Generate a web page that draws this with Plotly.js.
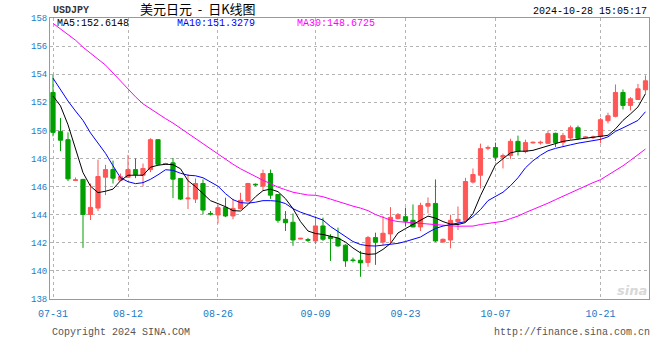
<!DOCTYPE html>
<html>
<head>
<meta charset="utf-8">
<script src="https://cdn.plot.ly/plotly-3.0.1.min.js"></script>
<style>html,body{margin:0;padding:0;background:#fff;}#chart{width:660px;height:360px;}</style>
</head>
<body>
<div id="chart"></div>
<script>
const dates = ['07-31','08-01','08-02','08-03','08-05','08-06','08-07','08-08','08-09','08-10',
'08-12','08-13','08-14','08-15','08-16','08-17','08-19','08-20','08-21','08-22',
'08-23','08-24','08-26','08-27','08-28','08-29','08-30','08-31','09-02','09-03',
'09-04','09-05','09-06','09-07','09-08','09-09','09-10','09-11','09-12','09-13',
'09-14','09-16','09-17','09-18','09-19','09-20','09-21','09-23','09-24','09-25',
'09-26','09-27','09-28','09-30','10-01','10-02','10-03','10-04','10-05','10-07',
'10-08','10-09','10-10','10-11','10-12','10-13','10-14','10-15','10-16','10-17',
'10-18','10-19','10-20','10-21','10-22','10-23','10-24','10-25','10-26','10-28'];

const openP = [152.70,149.93,149.34,146.44,146.51,144.02,144.47,146.67,147.21,146.46,
146.67,147.21,146.81,147.21,149.34,147.59,147.69,146.58,145.13,145.11,
146.22,144.09,143.98,144.52,143.91,144.43,144.97,146.17,146.03,146.93,
145.44,143.67,143.46,142.27,142.23,142.13,143.20,142.44,142.32,141.83,
140.78,140.76,140.60,142.37,142.06,142.63,143.72,143.86,143.60,143.13,
144.61,144.80,142.06,142.20,143.50,143.60,146.32,146.81,148.73,148.78,
148.09,148.21,149.22,148.49,149.11,149.11,149.08,149.79,149.15,149.46,
150.19,149.48,149.48,149.56,150.69,151.00,152.70,151.78,152.20,152.89];

const highP = [153.95,150.88,149.86,146.65,146.55,146.22,147.92,147.55,147.85,146.93,
148.26,148.00,147.64,149.44,149.36,147.69,148.04,146.60,146.88,146.58,
146.51,144.26,144.69,145.21,145.13,145.56,146.27,146.22,147.21,147.21,
145.46,144.26,144.09,142.34,142.35,143.86,143.79,142.61,143.08,141.90,
140.95,141.42,142.49,142.72,143.91,144.54,144.12,144.50,144.73,144.85,
145.23,146.51,142.30,144.00,144.59,146.62,147.29,149.06,148.92,149.13,
148.35,149.41,149.63,149.34,149.20,149.27,149.98,149.84,149.82,150.34,
150.34,149.58,149.63,150.88,151.26,153.27,152.91,152.37,153.31,153.91];

const lowP = [149.58,148.52,146.39,146.39,141.64,143.62,144.26,145.39,146.22,146.41,
146.62,146.60,146.01,147.03,147.55,147.55,145.18,145.04,144.40,144.83,
144.02,143.95,143.39,143.83,143.67,144.38,144.92,146.03,145.73,145.13,
143.43,142.84,141.78,142.25,142.06,141.90,142.13,140.71,141.71,140.29,
140.60,139.58,140.29,140.43,141.85,141.99,143.67,143.15,143.10,142.84,
144.09,142.06,142.01,141.61,142.91,143.55,146.22,145.87,148.59,147.81,
147.29,147.97,148.21,148.37,149.06,148.99,149.04,148.82,148.87,149.34,
149.34,149.44,149.39,149.08,150.50,150.93,151.49,151.42,152.18,152.63];

const closeP = [149.86,149.30,146.55,146.48,144.02,144.52,146.72,147.21,146.60,146.70,
147.21,146.86,147.29,149.34,147.59,147.64,146.53,145.11,145.18,146.22,
144.33,144.05,144.50,143.91,144.45,145.02,146.22,146.13,146.93,145.39,
143.60,143.43,142.20,142.32,142.18,143.20,142.25,142.30,141.78,140.71,
140.74,140.57,142.37,142.04,142.68,143.81,144.00,143.53,143.13,144.66,
144.80,142.13,142.25,143.60,143.67,146.36,146.86,148.70,148.78,148.09,
148.21,149.22,148.52,149.13,149.15,149.15,149.77,149.13,149.63,150.19,
149.44,149.53,149.53,150.76,151.04,152.70,151.78,152.25,152.96,153.53];

const ma5 = [152.45,151.74,150.40,148.62,146.99,146.03,145.57,145.67,145.82,146.42,
146.81,146.81,146.81,147.38,147.52,147.59,147.56,147.27,146.42,146.00,
145.50,145.00,144.79,144.57,144.29,144.26,144.72,145.28,145.71,145.82,
145.64,145.14,144.43,143.51,142.84,142.66,142.59,142.45,142.34,142.05,
141.63,141.28,141.18,141.21,141.53,141.95,142.70,143.01,143.30,143.58,
143.90,143.76,143.51,143.33,143.30,143.44,144.08,145.35,146.42,147.55,
147.98,148.40,148.52,148.52,148.58,148.74,148.87,149.04,149.22,149.30,
149.36,149.43,149.52,149.55,149.65,150.11,150.71,151.17,151.67,152.6148];

const ma10 = [153.72,152.87,152.09,151.38,150.71,149.82,149.11,148.37,147.48,146.63,
146.35,146.21,146.28,146.52,146.84,147.20,147.16,146.95,146.81,146.77,
146.63,146.35,146.03,145.50,145.07,144.86,144.82,144.89,145.00,145.00,
144.96,144.79,144.43,144.18,144.01,143.80,143.62,143.16,142.80,142.41,
142.09,141.88,141.79,141.77,141.82,141.89,141.96,142.09,142.24,142.41,
142.73,143.02,143.19,143.30,143.37,143.51,143.87,144.36,145.00,145.28,
145.60,146.06,146.63,147.34,147.84,148.23,148.55,148.72,148.87,148.97,
149.09,149.18,149.28,149.36,149.54,149.93,150.18,150.43,150.71,151.3279];

const ma30 = [157.62,157.23,156.81,156.42,155.92,155.46,155.07,154.65,154.08,153.55,
152.98,152.39,151.89,151.52,151.17,150.84,150.52,150.15,149.78,149.43,
149.08,148.69,148.30,147.94,147.59,147.27,146.99,146.70,146.45,146.21,
145.96,145.78,145.60,145.50,145.40,145.38,145.28,145.11,144.93,144.79,
144.61,144.47,144.29,144.01,143.79,143.62,143.51,143.46,143.43,143.39,
143.35,143.30,143.25,143.21,143.18,143.18,143.19,143.30,143.38,143.46,
143.53,143.72,143.90,144.15,144.36,144.57,144.82,145.07,145.32,145.57,
145.82,146.03,146.28,146.49,146.81,147.13,147.48,147.87,148.26,148.6725];

const xTickLabels = ['07-31','08-12','08-26','09-09','09-23','10-07','10-21'];
const yTicks = [138,140,142,144,146,148,150,152,154,156,158];

const symbol = 'USDJPY';
const titleText = '美元日元&nbsp;&nbsp;-&nbsp;&nbsp;日K线图';
const stamp = '2024-10-28 15:05:17';

const UP = '#ff5656', DOWN = '#00a000';
const mono = 'Liberation Mono, DejaVu Sans Mono, monospace';

const traces = [
  {type:'candlestick', x:dates, open:openP, high:highP, low:lowP, close:closeP,
   increasing:{line:{color:UP,width:1}, fillcolor:UP},
   decreasing:{line:{color:DOWN,width:1}, fillcolor:DOWN},
   whiskerwidth:0, hoverinfo:'skip'},
  {type:'scatter', mode:'lines', x:dates, y:ma30, line:{color:'#ff00ff',width:1}, hoverinfo:'skip'},
  {type:'scatter', mode:'lines', x:dates, y:ma10, line:{color:'#0000ff',width:1}, hoverinfo:'skip'},
  {type:'scatter', mode:'lines', x:dates, y:ma5, line:{color:'#000000',width:1}, hoverinfo:'skip'}
];

const last = a => a[a.length-1].toFixed(4);

const layout = {
  width:660, height:360,
  margin:{l:50, r:11, t:18, b:61, pad:0},
  paper_bgcolor:'#ffffff', plot_bgcolor:'#ffffff',
  showlegend:false, hovermode:false, boxgap:0.2,
  title:{text:titleText, xref:'container', x:140/660, xanchor:'left', yref:'container', y:1-9/360, yanchor:'middle',
         font:{family:'Noto Sans CJK SC', size:13, color:'#000'}},
  xaxis:{type:'category', range:[-0.4,79.47], rangeslider:{visible:false},
         tickvals:xTickLabels, ticktext:xTickLabels,
         showgrid:true, gridcolor:'#b4b4b4', griddash:'dot', gridwidth:1,
         showline:true, mirror:true, linecolor:'#999', linewidth:1,
         ticks:'outside', ticklen:5, tickcolor:'rgba(0,0,0,0)',
         tickfont:{family:mono, size:10, color:'#1a7ac8'}, zeroline:false, fixedrange:true},
  yaxis:{range:[138,158], tickvals:yTicks, ticktext:yTicks.map(String),
         showgrid:true, gridcolor:'#b4b4b4', griddash:'dot', gridwidth:1,
         showline:true, mirror:true, linecolor:'#999', linewidth:1,
         ticks:'', tickfont:{family:mono, size:9, color:'#1a7ac8'}, zeroline:false, fixedrange:true},
  annotations:[
    {xref:'paper', yref:'paper', x:0.002, y:(299-11)/281, xanchor:'left', yanchor:'middle', showarrow:false,
     text:'<b>'+symbol+'</b>', font:{family:mono, size:10, color:'#333'}},
    {xref:'paper', yref:'paper', x:1, y:(299-11.5)/281, xanchor:'right', yanchor:'middle', showarrow:false,
     text:stamp, font:{family:mono, size:10, color:'#000'}},
    {xref:'paper', yref:'paper', x:(55-50)/599, y:(299-23.5)/281, xanchor:'left', yanchor:'middle', showarrow:false,
     text:'MA5:'+last(ma5), font:{family:mono, size:10, color:'#000'}},
    {xref:'paper', yref:'paper', x:(175-50)/599, y:(299-23.5)/281, xanchor:'left', yanchor:'middle', showarrow:false,
     text:'MA10:'+last(ma10), font:{family:mono, size:10, color:'#0000ff'}},
    {xref:'paper', yref:'paper', x:(295-50)/599, y:(299-23.5)/281, xanchor:'left', yanchor:'middle', showarrow:false,
     text:'MA30:'+last(ma30), font:{family:mono, size:10, color:'#ff00ff'}},
    {xref:'paper', yref:'paper', x:0, y:(299-332)/281, xanchor:'left', yanchor:'middle', showarrow:false,
     text:'Copyright 2024 SINA.COM', font:{family:mono, size:10, color:'#555'}},
    {xref:'paper', yref:'paper', x:(652-50)/599, y:(299-332)/281, xanchor:'right', yanchor:'middle', showarrow:false,
     text:'http://finance.sina.com.cn', font:{family:mono, size:10, color:'#555'}},
    {xref:'paper', yref:'paper', x:1, y:(299-290)/281, xanchor:'right', yanchor:'middle', showarrow:false,
     text:'<b><i>sina</i></b>', font:{family:'DejaVu Sans', size:13, color:'#d8d8d8'}}
  ]
};

Plotly.newPlot('chart', traces, layout, {staticPlot:true, displayModeBar:false});
</script>
</body>
</html>
